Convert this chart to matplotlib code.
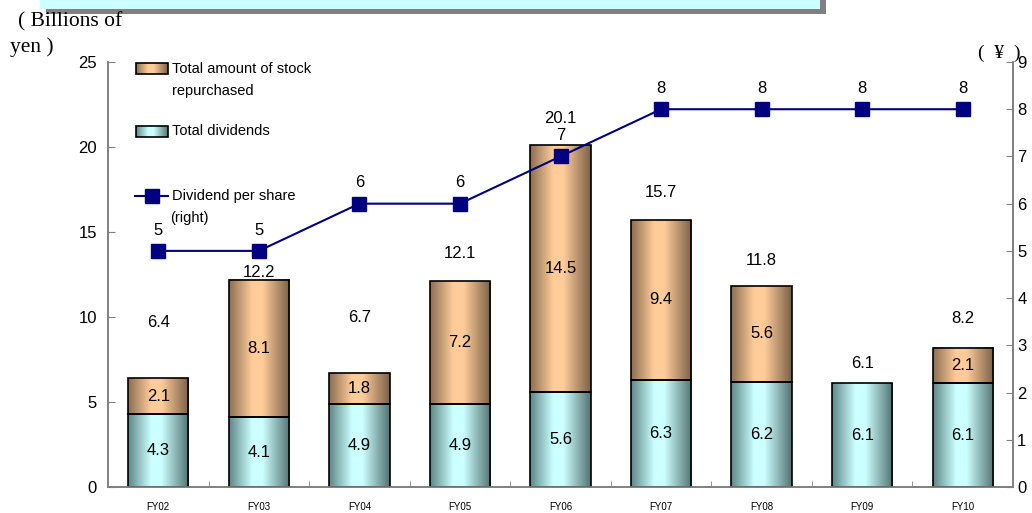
import numpy as np
import matplotlib.pyplot as plt
from matplotlib.colors import LinearSegmentedColormap
from matplotlib.patches import Rectangle
from matplotlib.lines import Line2D

plt.rcParams['font.family'] = ['Liberation Sans Narrow', 'Liberation Sans', 'DejaVu Sans']

years = ['FY02', 'FY03', 'FY04', 'FY05', 'FY06', 'FY07', 'FY08', 'FY09', 'FY10']
dividends = [4.3, 4.1, 4.9, 4.9, 5.6, 6.3, 6.2, 6.1, 6.1]
buyback = [2.1, 8.1, 1.8, 7.2, 14.5, 9.4, 5.6, 0.0, 2.1]
totals = [6.4, 12.2, 6.7, 12.1, 20.1, 15.7, 11.8, 6.1, 8.2]
dps = [5, 5, 6, 6, 7, 8, 8, 8, 8]

# offset (points) of the total label above each bar
total_pad = [40, 5, 40, 20, 19, 20, 19, 14, 21]

peach = LinearSegmentedColormap.from_list(
    'peach', [(0, '#8a6e52'), (0.38, '#ffcc99'), (0.55, '#ffcc99'), (1, '#7a6048')])
aqua = LinearSegmentedColormap.from_list(
    'aqua', [(0, '#5e8686'), (0.38, '#ccffff'), (0.55, '#ccffff'), (1, '#547272')])
grad = np.linspace(0, 1, 256).reshape(1, -1)

fig = plt.figure(figsize=(10.32, 5.13), dpi=100)
ax = fig.add_axes([108 / 1032, 26 / 513, 905 / 1032, 425 / 513])
ax2 = ax.twinx()

x = np.arange(len(years))
w = 0.6


def shaded_bars(bottoms, heights, cmap):
    bars = ax.bar(x, heights, w, bottom=bottoms, facecolor='none',
                  edgecolor='black', linewidth=1.2, zorder=3)
    for b in bars:
        if b.get_height() <= 0:
            b.set_visible(False)
            continue
        x0, y0 = b.get_x(), b.get_y()
        ax.imshow(grad, cmap=cmap, aspect='auto', zorder=2,
                  extent=(x0, x0 + b.get_width(), y0, y0 + b.get_height()))
    return bars


shaded_bars(0, dividends, aqua)
shaded_bars(dividends, buyback, peach)

for i in range(len(years)):
    ax.text(x[i], dividends[i] / 2, f'{dividends[i]}', ha='center', va='center',
            fontsize=12, zorder=5)
    if buyback[i] > 0:
        ax.text(x[i], dividends[i] + buyback[i] / 2, f'{buyback[i]}', ha='center',
                va='center', fontsize=12, zorder=5)
    ax.annotate(f'{totals[i]}', (x[i], totals[i]), xytext=(0, total_pad[i]),
                textcoords='offset points', ha='center', va='center', fontsize=12)

ax.set_xlim(-0.5, len(years) - 0.5)
ax.set_ylim(0, 25)
ax.set_yticks(range(0, 26, 5))
ax.set_xticks(x)
ax.set_xticklabels(years, fontsize=7)
ax.set_xticks(np.arange(0.5, len(years) - 0.5), minor=True)
ax.tick_params(axis='x', which='major', length=0, pad=10.5)
ax.tick_params(axis='x', which='minor', direction='in', length=4, color='#808080')
ax.tick_params(axis='y', direction='in', length=5, color='#808080', labelsize=12, pad=8)

ax2.plot(x, dps, color='#000080', linewidth=1.5, marker='s', markersize=10,
         markerfacecolor='#000080', markeredgecolor='#000080', zorder=6)
for i in range(len(years)):
    ax2.annotate(f'{dps[i]}', (x[i], dps[i]), xytext=(0, 15),
                 textcoords='offset points', ha='center', va='center', fontsize=12)
ax2.set_ylim(0, 9)
ax2.set_yticks(range(0, 10))
ax2.tick_params(axis='y', direction='in', length=5, color='#808080', labelsize=12, pad=3)

for a in (ax, ax2):
    a.spines['top'].set_visible(False)
    for s in ('left', 'right', 'bottom'):
        a.spines[s].set_color('#808080')
        a.spines[s].set_linewidth(1.2)

# legend drawn by hand in the upper-left corner
ta = ax.transAxes
def fx(px):
    return (px - 108) / 905
def fy(py):
    return (487 - py) / 425

ax.imshow(grad, cmap=peach, aspect='auto', transform=ta, zorder=4,
          extent=(fx(136), fx(168), fy(74), fy(63)))
ax.add_patch(Rectangle((fx(136), fy(74)), fx(168) - fx(136), fy(63) - fy(74),
                       transform=ta, fill=False, edgecolor='black', lw=1.2, zorder=5))
ax.text(fx(172), fy(69), 'Total amount of stock', transform=ta, fontsize=10.5, va='center')
ax.text(fx(172), fy(91), 'repurchased', transform=ta, fontsize=10.5, va='center')

ax.imshow(grad, cmap=aqua, aspect='auto', transform=ta, zorder=4,
          extent=(fx(136), fx(168), fy(137), fy(126)))
ax.add_patch(Rectangle((fx(136), fy(137)), fx(168) - fx(136), fy(126) - fy(137),
                       transform=ta, fill=False, edgecolor='black', lw=1.2, zorder=5))
ax.text(fx(172), fy(131), 'Total dividends', transform=ta, fontsize=10.5, va='center')

ax.add_line(Line2D([fx(135), fx(168)], [fy(196), fy(196)], transform=ta,
                   color='#000080', lw=1.5, zorder=5))
ax.add_line(Line2D([fx(152)], [fy(196)], transform=ta, color='#000080',
                   marker='s', markersize=10, linestyle='none', zorder=6))
ax.text(fx(172), fy(196), 'Dividend per share', transform=ta, fontsize=10.5, va='center')
ax.text(fx(170), fy(218), '(right)', transform=ta, fontsize=10.5, va='center')

# unit captions
fig.text(18 / 1032, 1 - 22 / 513, '( Billions of', family='Liberation Serif',
         fontsize=15.5, va='center')
fig.text(10 / 1032, 1 - 47 / 513, 'yen )', family='Liberation Serif',
         fontsize=15.5, va='center')
fig.text(978 / 1032, 1 - 53 / 513, '(  ¥  )', family=['Liberation Serif', 'DejaVu Sans'],
         fontsize=14, va='center')

# title banner strip at the top
fig.patches.append(Rectangle((46 / 1032, 1 - 14 / 513), 780 / 1032, 14 / 513,
                             transform=fig.transFigure, facecolor='#808080',
                             edgecolor='none'))
fig.patches.append(Rectangle((40 / 1032, 1 - 9 / 513), 780 / 1032, 9 / 513,
                             transform=fig.transFigure, facecolor='#ccffff',
                             edgecolor='none'))

fig.savefig('out.png', dpi=100)
